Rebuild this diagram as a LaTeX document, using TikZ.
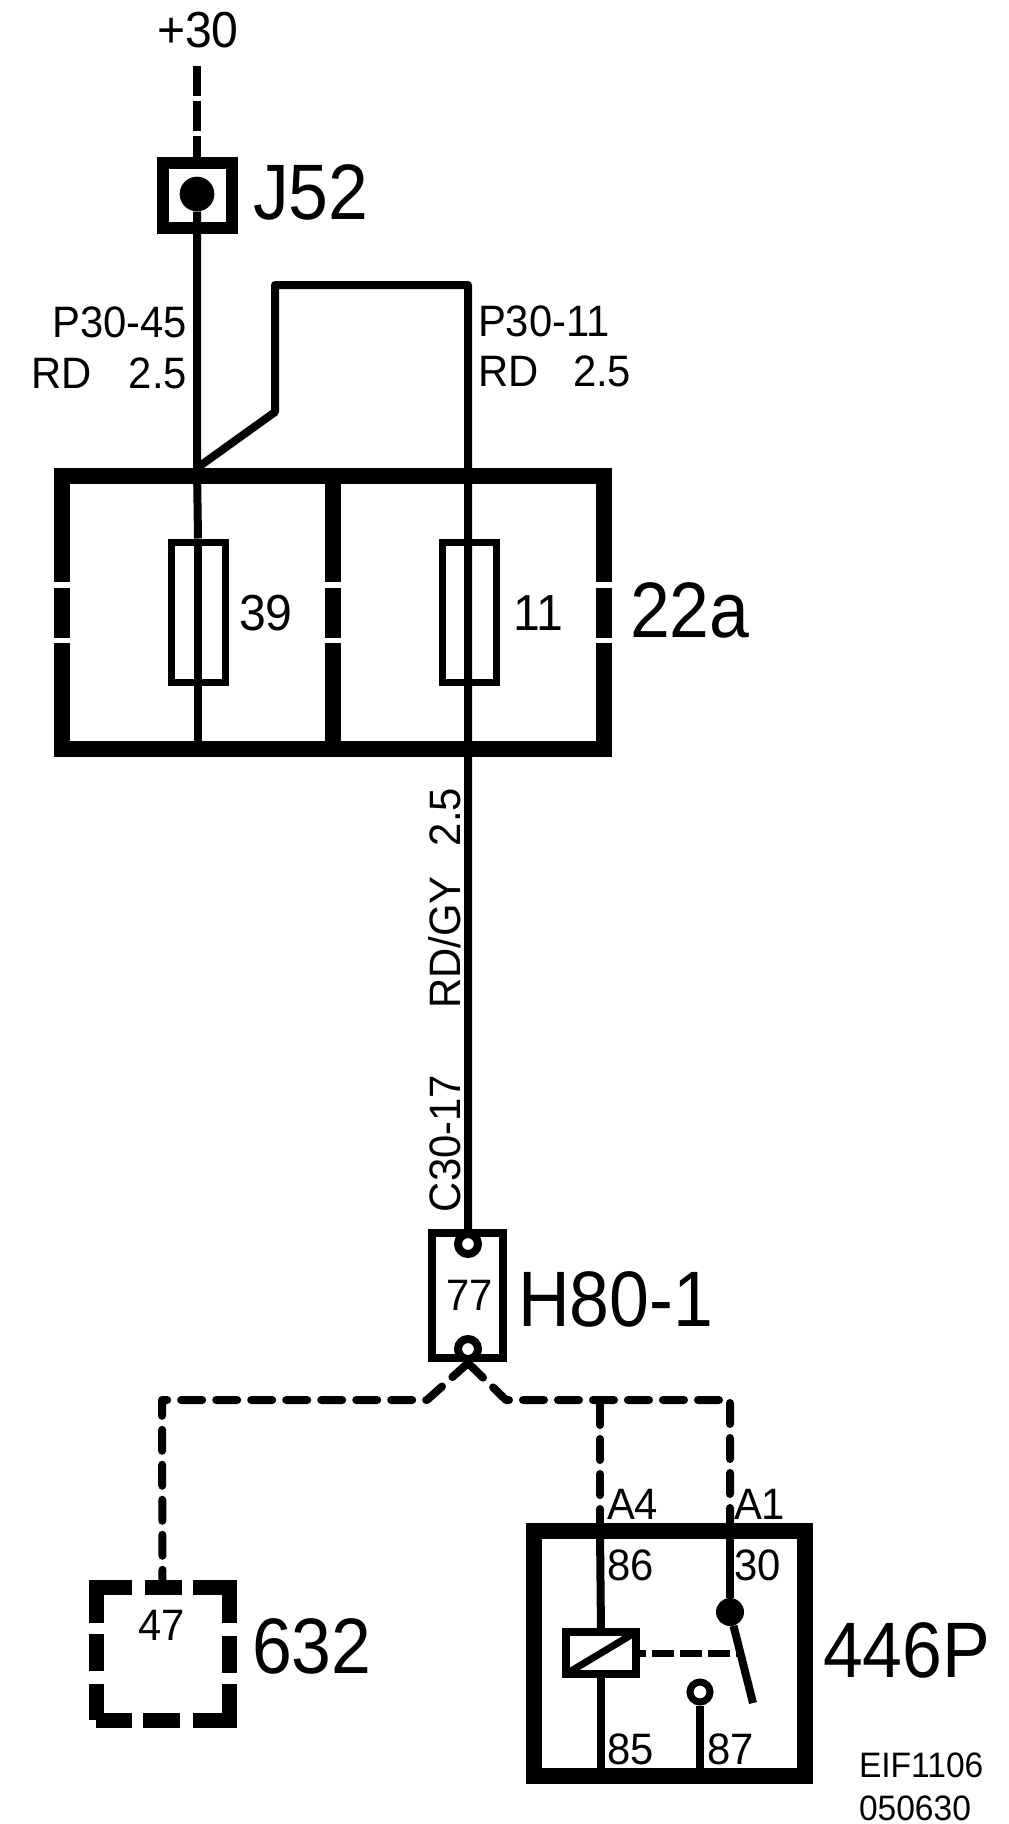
\documentclass[tikz,border=0pt]{standalone}
\usepackage{fontspec}
\setmainfont{Liberation Sans}
\newfontfamily\bigfont[FakeStretch=0.91]{Liberation Sans}
\newfontfamily\smallfont[FakeStretch=0.95]{Liberation Sans}
\tikzset{
  wire/.style={line width=6pt},
  thinwire/.style={line width=5.25pt},
  dashwire/.style={line width=6pt,line cap=round,line join=round,dash pattern=on 15.75pt off 10.5pt},
  feedwire/.style={line width=6pt,dash pattern=on 22.5pt off 3.75pt},
  ctrlwire/.style={line width=5.25pt,dash pattern=on 16.5pt off 4.5pt,dash phase=9pt},
  heavy/.style={line width=12pt,line cap=rect},
  sidegap/.style={line width=11.5pt,dash pattern=on 79.5pt off 4.5pt on 37.5pt off 3.75pt on 200pt},
  plainbox/.style={draw,inner sep=0pt,outer sep=0pt},
  fuse/.style={draw,line width=5.25pt,inner sep=0pt,minimum width=40.5pt,minimum height=105pt},
  ring/.style={circle,draw,fill=white,inner sep=0pt,minimum size=15pt,line width=6pt},
  blob/.style={circle,fill=black,inner sep=0pt},
  txt/.style={inner sep=0pt,outer sep=0pt},
  smalltxt/.style={txt,font=\smallfont\fontsize{33}{33}\selectfont},
  numtxt/.style={txt,font=\smallfont\fontsize{38}{38}\selectfont},
  bigtxt/.style={txt,font=\bigfont\fontsize{59}{59}\selectfont},
  tinytxt/.style={txt,font=\smallfont\fontsize{26.5}{26.5}\selectfont}
}

\begin{document}
\begin{tikzpicture}[x=0.75pt,y=0.75pt,yscale=-1,xscale=1]
\useasboundingbox (0,0) rectangle (1008,1824);

%Shape: fuse block
\node [minimum width=406.5pt,minimum height=204.75pt,inner sep=0pt,outer sep=0pt] (block22a) at (333,612.5) {};
\draw [sidegap] (block22a.north west) -- (block22a.south west);
\draw [sidegap] (block22a.north) -- (block22a.south);
\draw [sidegap] (block22a.north east) -- (block22a.south east);
\draw [heavy] (block22a.north west) -- (block22a.north east);
\draw [heavy] (block22a.south west) -- (block22a.south east);

%Shape: junction and fuses
\node [plainbox,line width=9pt,minimum width=51.75pt,minimum height=48.75pt] (boxJ52) at (197,195.5) {};
\node [blob,minimum size=26pt] (dotJ52) at (197,194) {};
\node [fuse] (fuse39) at (198,612) {};
\node [fuse] (fuse11) at (469,612) {};

%Shape: connector H80
\node [plainbox,line width=6pt,minimum width=53.25pt,minimum height=93.75pt] (boxH80) at (467.5,1295.5) {};
\node [ring] (ringTop) at (468,1244) {};
\node [ring] (ringBot) at (468,1349) {};

%Shape: control unit 632 and relay 446P
\node [plainbox,line width=11.25pt,minimum width=99.75pt,minimum height=99.75pt,dash pattern=on 54pt off 8.25pt on 27.75pt off 9.75pt,dash phase=27pt] (box632) at (162.5,1653.5) {};
\node [plainbox,line width=12pt,minimum width=203.25pt,minimum height=183.75pt] (relay446P) at (669.5,1653.5) {};
\node [plainbox,line width=6pt,minimum width=52.5pt,minimum height=31.5pt] (coil) at (601,1653) {};
\node [blob,minimum size=21pt] (pivot) at (730,1612) {};
\node [ring,minimum size=15pt,line width=5.25pt] (contact) at (700,1692) {};

\coordinate (feed) at (197,66);
\coordinate (tap) at (197,468);
\coordinate (jumpA) at (275,412);
\coordinate (jumpB) at (275,285);
\coordinate (jumpC) at (468,285);
\coordinate (splitL) at (427,1400);
\coordinate (splitR) at (506,1400);
\coordinate (cornerL) at (162,1400);
\coordinate (tee) at (600,1404);
\coordinate (cornerR) at (730,1400);
\coordinate (bladeEnd) at (753,1703);
\coordinate (bladeMid) at (738,1653);

%Straight Lines
\draw [feedwire] (feed) -- (boxJ52.north);
\draw [wire] (dotJ52) -- (tap) -- (fuse39.north);
\draw [wire] (fuse39.north) -- (fuse39.south) -- (fuse39.south |- block22a.south);
\draw [wire,line join=round] (tap) -- (jumpA) -- (jumpB) -- (jumpC) -- (jumpC |- ringTop.north);
\draw [dashwire] (ringBot.south) -- (splitL) -- (cornerL) -- (box632.north);
\draw [dashwire] (ringBot.south) -- (splitR) -- (cornerR) -- (cornerR |- relay446P.north);
\draw [dashwire] (tee) -- (tee |- relay446P.north);
\draw [wire] (tee |- relay446P.north) -- (coil.north);
\draw [wire] (coil.south) -- (coil.south |- relay446P.south);
\draw [thinwire] (coil.south west) -- (coil.north east);
\draw [wire] (cornerR |- relay446P.north) -- (pivot);
\draw [wire] (pivot) -- (bladeEnd);
\draw [ctrlwire] (coil.east) -- (bladeMid);
\draw [wire] (contact.south) -- (contact.south |- relay446P.south);

% Text Node
\node [txt,anchor=base west,font=\smallfont\fontsize{38}{38}\selectfont] (lblFeed) at (157,47) {+30};
\node [bigtxt,anchor=base west] (lblJ52) at (253,219) {J52};
\node [smalltxt,anchor=base east] (lblP45) at (187,337) {P30-45};
\node [smalltxt,anchor=base east] (lblRDa) at (187,388) {RD\hspace{28pt}2.5};
\node [smalltxt,anchor=base west] (lblP11) at (478,336) {P30-11};
\node [smalltxt,anchor=base west] (lblRDb) at (478,386) {RD\hspace{26pt}2.5};
\node [numtxt,anchor=base] (lbl39) at (266,630) {39};
\node [numtxt,anchor=base] (lbl11) at (538,630) {11};
\node [bigtxt,anchor=base west] (lbl22a) at (630,637) {22a};
\node [smalltxt,anchor=base east,rotate=90] (lblRDGY) at (460,788) {RD/GY\hspace{22.5pt}2.5};
\node [smalltxt,anchor=base east,rotate=90] (lblC17) at (460,1075) {C30-17};
\node [smalltxt,anchor=base] (lbl77) at (470,1310) {77};
\node [bigtxt,anchor=base west] (lblH80) at (518,1326) {H80-1};
\node [smalltxt,anchor=base] (lbl47) at (162,1640) {47};
\node [bigtxt,anchor=base west] (lbl632) at (252,1673) {632};
\node [smalltxt,anchor=base west] (lblA4) at (607,1519) {A4};
\node [smalltxt,anchor=base west] (lblA1) at (734,1519) {A1};
\node [smalltxt,anchor=base west] (lbl86) at (607,1580) {86};
\node [smalltxt,anchor=base west] (lbl30) at (734,1580) {30};
\node [smalltxt,anchor=base west] (lbl85) at (607,1764) {85};
\node [smalltxt,anchor=base west] (lbl87) at (707,1764) {87};
\node [bigtxt,anchor=base west] (lbl446P) at (823,1677) {446P};
\node [tinytxt,anchor=base west] (lblEIF) at (859,1777) {EIF1106};
\node [tinytxt,anchor=base west] (lblDate) at (859,1820) {050630};

\end{tikzpicture}
\end{document}
